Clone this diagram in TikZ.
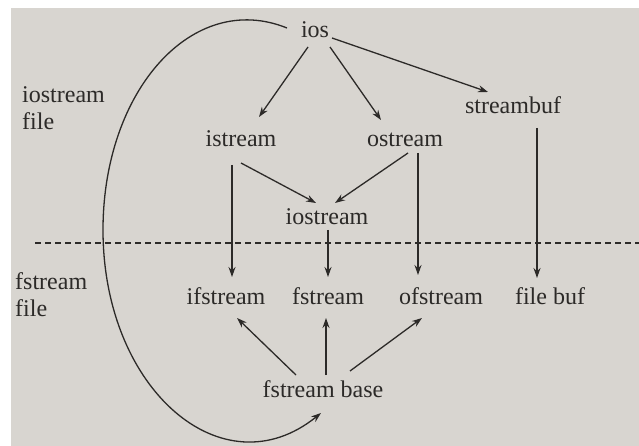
\documentclass[tikz,border=0pt]{standalone}
\usepackage{fontspec}
\setmainfont{Liberation Serif}
\usetikzlibrary{arrows.meta}
\definecolor{ink}{HTML}{2C2A28}
\definecolor{paper}{HTML}{D8D5D0}
\begin{document}
\begin{tikzpicture}[x=1pt,y=-1pt,
  lbl/.style={inner sep=0pt, anchor=base, text=ink, font=\fontsize{24}{26}\selectfont},
  side/.style={inner sep=0pt, anchor=base west, text=ink, font=\fontsize{24}{26}\selectfont},
  arr/.style={draw=ink, line width=1.3pt, -{Stealth[length=10pt,width=7pt]}},
  sep/.style={draw=ink, line width=1.1pt, dash pattern=on 6pt off 4pt}]
\useasboundingbox (0,0) rectangle (639,446);
\fill[white] (0,0) rectangle (639,446);
\fill[paper] (11,8) rectangle (639,446);

% nodes
\node[lbl] (ios) at (315,38) {ios};
\node[lbl] (istream) at (241,147) {istream};
\node[lbl] (ostream) at (405,147) {ostream};
\node[lbl] (streambuf) at (513,114) {streambuf};
\node[lbl] (iostream) at (327,225) {iostream};
\node[lbl] (ifstream) at (226,304) {ifstream};
\node[lbl] (fstream) at (328,304) {fstream};
\node[lbl] (ofstream) at (441,304) {ofstream};
\node[lbl] (filebuf) at (550,304) {file buf};
\node[lbl] (fbase) at (323,397) {fstream base};

\node[side] (iofileA) at (22,103) {iostream};
\node[side] (iofileB) at (22,130) {file};
\node[side] (ffileA) at (15,289) {fstream};
\node[side] (ffileB) at (15,316) {file};

% separator
\coordinate (sepL) at (35,243);
\coordinate (sepR) at (639,243);
\draw[sep] (sepL) -- (sepR);

% arrows from ios
\draw[arr] ([shift={(-7,9)}]ios.base) -- ([shift={(18,-30)}]istream.base);
\draw[arr] ([shift={(15,9)}]ios.base) -- ([shift={(-24,-27)}]ostream.base);
\draw[arr] ([shift={(17,0)}]ios.base) -- ([shift={(-25,-22)}]streambuf.base);

% to iostream
\draw[arr] ([shift={(0,16)}]istream.base) -- ([shift={(-11,-22)}]iostream.base);
\draw[arr] ([shift={(3,6)}]ostream.base) -- ([shift={(8,-22)}]iostream.base);

% vertical arrows
\draw[arr] ([shift={(-9,18)}]istream.base) -- ([shift={(6,-27)}]ifstream.base);
\draw[arr] ([shift={(1,5)}]iostream.base) -- ([shift={(0,-27)}]fstream.base);
\draw[arr] ([shift={(13,6)}]ostream.base) -- ([shift={(-23,-29)}]ofstream.base);
\draw[arr] ([shift={(24,14)}]streambuf.base) -- ([shift={(-13,-26)}]filebuf.base);

% from fstream base
\draw[arr] ([shift={(-27,-22)}]fbase.base) -- ([shift={(11,14)}]ifstream.base);
\draw[arr] ([shift={(3,-22)}]fbase.base) -- ([shift={(-2,14)}]fstream.base);
\draw[arr] ([shift={(27,-26)}]fbase.base) -- ([shift={(-19,14)}]ofstream.base);

% big curve from ios to fstream base
\coordinate (leftmost) at (103,230);
\draw[arr] ([shift={(-28,-10)}]ios.base)
  .. controls (193,-10) and (103,90) .. (leftmost)
  .. controls (103,390) and (223,492) .. ([shift={(-2,16)}]fbase.base);
\end{tikzpicture}
\end{document}
